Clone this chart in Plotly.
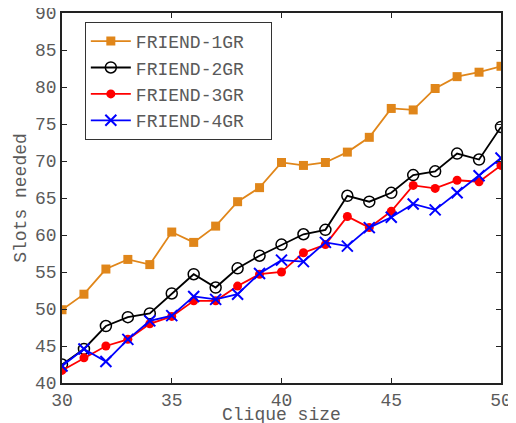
import plotly.graph_objects as go

clique_size = list(range(30, 51))
friend_1gr = [49.9, 52.0, 55.4, 56.7, 56.0, 60.4, 59.0, 61.2, 64.5, 66.4, 69.8,
              69.4, 69.8, 71.2, 73.2, 77.1, 76.9, 79.8, 81.4, 82.0, 82.8]
friend_2gr = [42.5, 44.6, 47.7, 48.9, 49.4, 52.1, 54.7, 52.9, 55.5, 57.2, 58.7,
              60.1, 60.7, 65.3, 64.5, 65.7, 68.1, 68.6, 71.0, 70.2, 74.6]
friend_3gr = [41.7, 43.4, 45.0, 45.9, 48.0, 49.0, 51.1, 51.1, 53.1, 54.7, 55.0,
              57.6, 58.7, 62.5, 61.0, 63.2, 66.7, 66.3, 67.4, 67.2, 69.4]
friend_4gr = [42.3, 44.6, 42.9, 45.9, 48.4, 49.1, 51.7, 51.3, 52.0, 54.8, 56.6,
              56.4, 59.0, 58.5, 61.0, 62.4, 64.2, 63.4, 65.7, 68.0, 70.4]

x_ticks = [30, 35, 40, 45, 50]
y_ticks = [40, 45, 50, 55, 60, 65, 70, 75, 80, 85, 90]

FONT = "Liberation Mono, Courier New, monospace"
TXT = "#5a5a5a"
PAD = "\u00a0\u00a0\u200b"  # keeps the legend frame as wide as the original

series = [
    ("FRIEND-1GR", friend_1gr, "#E0861A", dict(symbol="square", size=9, color="#E0861A")),
    ("FRIEND-2GR", friend_2gr, "#000000", dict(symbol="circle-open", size=11, color="#000000", line=dict(width=1.5))),
    ("FRIEND-3GR", friend_3gr, "#FF0000", dict(symbol="circle", size=9, color="#FF0000")),
    ("FRIEND-4GR", friend_4gr, "#0000FF", dict(symbol="x-thin-open", size=11, color="#0000FF", line=dict(width=2, color="#0000FF"))),
]

fig = go.Figure()
for name, ys, col, mk in series:
    fig.add_trace(go.Scatter(x=clique_size, y=ys, name=name + PAD, mode="lines+markers",
                             line=dict(color=col, width=1.8), marker=mk))

axis_common = dict(showline=True, linecolor="#222222", linewidth=1.5, mirror="ticks",
                   ticks="inside", ticklen=5, tickcolor="#222222", showgrid=False,
                   zeroline=False, automargin=False, ticklabeloverflow="allow",
                   tickfont=dict(family=FONT, size=18, color=TXT))
fig.update_xaxes(range=[30, 50], tickvals=x_ticks, ticktext=[str(v) for v in x_ticks],
                 **axis_common)
fig.update_yaxes(range=[40, 90], tickvals=y_ticks, ticktext=[str(v) for v in y_ticks],
                 title=dict(text="Slots needed", font=dict(family=FONT, size=18, color=TXT), standoff=4),
                 **axis_common)

fig.update_layout(
    width=508, height=415,
    margin=dict(l=54, r=15, t=5, b=40, autoexpand=False),
    plot_bgcolor="white", paper_bgcolor="white",
    showlegend=True,
    legend=dict(x=0.052, y=0.976, xanchor="left", yanchor="top",
                bgcolor="white", bordercolor="#333333", borderwidth=1,
                font=dict(family=FONT, size=18, color=TXT),
                itemwidth=40, tracegroupgap=0),
    annotations=[dict(text="Clique size", xref="paper", yref="paper",
                      x=0.5, y=-0.086, xanchor="center", yanchor="middle",
                      showarrow=False, font=dict(family=FONT, size=18, color=TXT))],
)

fig.write_html("out.html")
